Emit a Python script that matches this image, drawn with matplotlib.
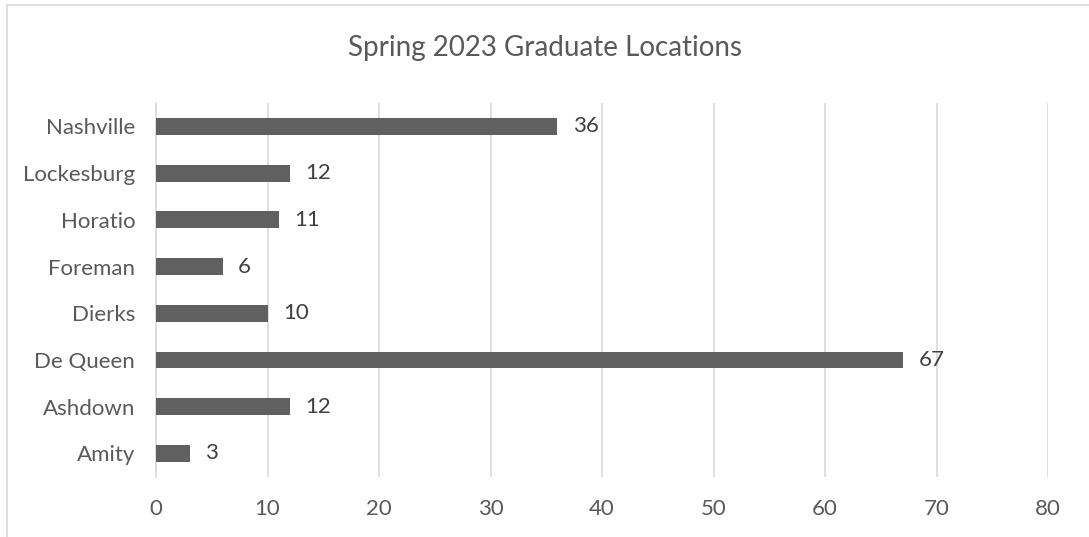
import matplotlib
matplotlib.use("Agg")
import matplotlib.pyplot as plt
from matplotlib.lines import Line2D

towns = ["Amity", "Ashdown", "De Queen", "Dierks", "Foreman", "Horatio", "Lockesburg", "Nashville"]
graduates = [3, 12, 67, 10, 6, 11, 12, 36]
xticks = [0, 10, 20, 30, 40, 50, 60, 70, 80]

textColor = "#595959"
barColor = "#606060"
gridColor = "#d9d9d9"

plt.rcParams['font.family'] = ['Lato', 'DejaVu Sans']

fig = plt.figure(figsize=(10.89, 5.37), dpi=100)
ax = fig.add_axes([0.1433, 0.112, 0.8191, 0.696])

pos = range(len(towns))
ax.barh(pos, graduates, height=0.36, color=barColor, zorder=3)

for i, v in enumerate(graduates):
    ax.annotate(str(v), (v, i), xytext=(11, 0), textcoords="offset points",
                va="center", ha="left", fontsize=16, color="#404040")

ax.set_xlim(0, 80)
ax.set_ylim(-0.5, len(towns) - 0.5)
ax.set_xticks(xticks)
ax.set_yticks(list(pos))
ax.set_yticklabels(towns)
ax.tick_params(axis="both", length=0, labelsize=16, labelcolor=textColor)
ax.tick_params(axis="x", pad=16)
ax.tick_params(axis="y", pad=15)
ax.grid(axis="x", color=gridColor, linewidth=1.2, zorder=0)
for side in ["top", "right", "bottom"]:
    ax.spines[side].set_visible(False)
ax.spines["left"].set_color(gridColor)
ax.spines["left"].set_linewidth(1.2)

fig.text(0.5, 0.91, "Spring 2023 Graduate Locations", ha="center", va="center",
         fontsize=20, color=textColor)

# chart frame (left and top edges visible)
fig.add_artist(Line2D([6.5 / 1089, 6.5 / 1089], [0, 1 - 4.5 / 537], transform=fig.transFigure,
                      color=gridColor, linewidth=1.2))
fig.add_artist(Line2D([6.5 / 1089, 1], [1 - 4.5 / 537, 1 - 4.5 / 537], transform=fig.transFigure,
                      color=gridColor, linewidth=1.2))

fig.savefig("out.png", dpi=100)
